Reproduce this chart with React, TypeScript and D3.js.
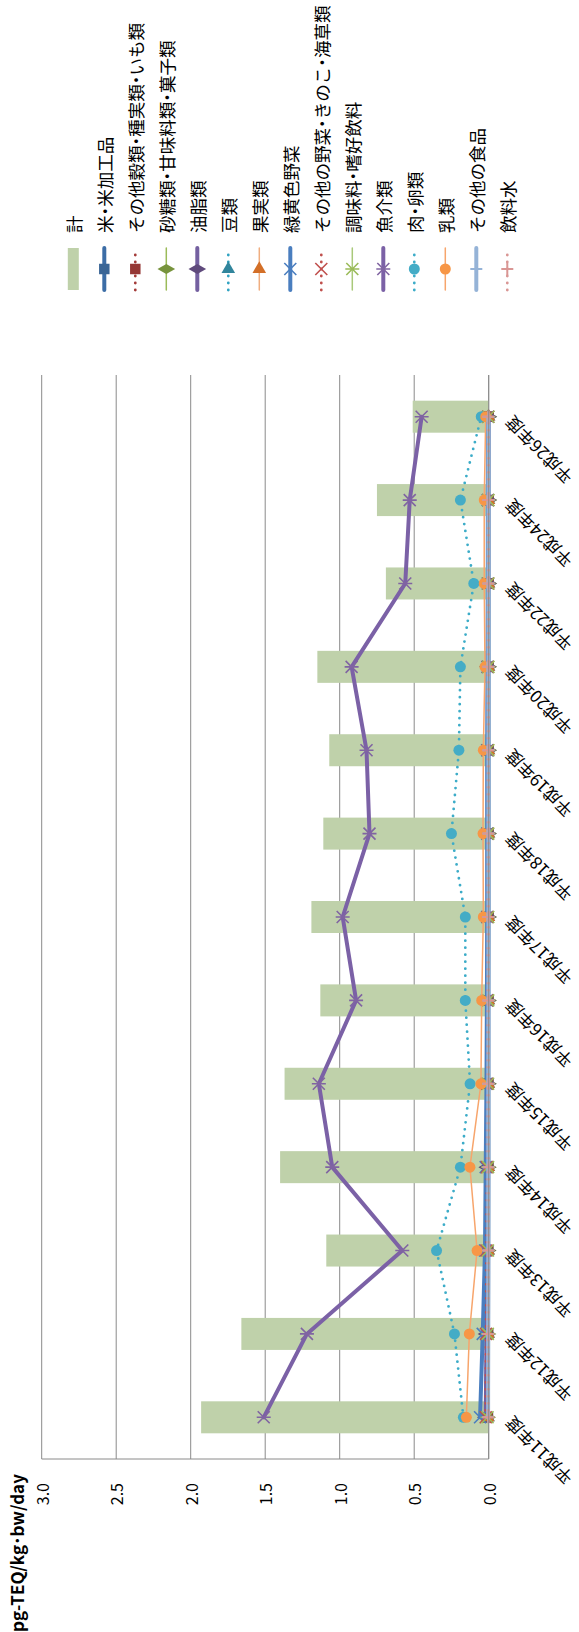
import * as d3 from "d3";

// categories (fiscal years)
const categories = [
  "平成11年度", "平成12年度", "平成13年度", "平成14年度", "平成15年度",
  "平成16年度", "平成17年度", "平成18年度", "平成19年度", "平成20年度",
  "平成22年度", "平成24年度", "平成26年度",
];

const valueTicks = [0, 0.5, 1.0, 1.5, 2.0, 2.5, 3.0];

// 計 (bars)
const total = [1.93, 1.66, 1.09, 1.40, 1.37, 1.13, 1.19, 1.11, 1.07, 1.15, 0.69, 0.75, 0.51];

// line series
const rice = [0.005, 0.004, 0.003, 0.002, 0.002, 0.002, 0.001, 0.001, 0.001, 0.001, 0.001, 0.001, 0.001];
const otherGrains = [0.006, 0.005, 0.004, 0.003, 0.003, 0.002, 0.002, 0.002, 0.002, 0.002, 0.001, 0.001, 0.001];
const sugar = [0.010, 0.008, 0.006, 0.005, 0.004, 0.004, 0.003, 0.003, 0.003, 0.003, 0.002, 0.002, 0.002];
const oils = [0.020, 0.015, 0.010, 0.010, 0.008, 0.007, 0.006, 0.006, 0.005, 0.005, 0.004, 0.004, 0.003];
const beans = [0.004, 0.003, 0.003, 0.002, 0.002, 0.002, 0.002, 0.001, 0.001, 0.001, 0.001, 0.001, 0.001];
const fruits = [0.006, 0.005, 0.004, 0.003, 0.003, 0.003, 0.002, 0.002, 0.002, 0.002, 0.002, 0.002, 0.001];
const greenVeg = [0.058, 0.040, 0.025, 0.020, 0.015, 0.012, 0.010, 0.010, 0.010, 0.008, 0.006, 0.006, 0.005];
const otherVeg = [0.020, 0.018, 0.015, 0.012, 0.010, 0.008, 0.007, 0.006, 0.006, 0.005, 0.004, 0.004, 0.003];
const seasonings = [0.008, 0.006, 0.005, 0.004, 0.004, 0.003, 0.003, 0.003, 0.002, 0.002, 0.002, 0.002, 0.002];
const fish = [1.51, 1.22, 0.58, 1.05, 1.14, 0.89, 0.98, 0.80, 0.82, 0.92, 0.56, 0.53, 0.45];
const meatEggs = [0.17, 0.23, 0.35, 0.19, 0.125, 0.157, 0.157, 0.25, 0.20, 0.19, 0.10, 0.19, 0.05];
const milk = [0.15, 0.13, 0.078, 0.126, 0.052, 0.047, 0.036, 0.038, 0.036, 0.025, 0.03, 0.03, 0.02];
const otherFoods = [0.004, 0.004, 0.003, 0.003, 0.003, 0.002, 0.002, 0.002, 0.002, 0.002, 0.002, 0.002, 0.002];
const water = [0.002, 0.002, 0.001, 0.001, 0.001, 0.001, 0.001, 0.001, 0.001, 0.001, 0.001, 0.001, 0.001];

type Marker = "square" | "diamond" | "triangle" | "x" | "star" | "circle" | "plus";
type Series = {
  name: string;
  values: number[];
  color: string;
  markerColor: string;
  width: number;
  dotted?: boolean;
  marker: Marker;
};

const series: Series[] = [
  { name: "米・米加工品", values: rice, color: "#3c6da6", markerColor: "#3a6596", width: 4, marker: "square" },
  { name: "その他穀類・種実類・いも類", values: otherGrains, color: "#a33b39", markerColor: "#953735", width: 3, dotted: true, marker: "square" },
  { name: "砂糖類・甘味料類・菓子類", values: sugar, color: "#9bbb59", markerColor: "#77933c", width: 1.5, marker: "diamond" },
  { name: "油脂類", values: oils, color: "#7460a0", markerColor: "#5f4a7c", width: 4, marker: "diamond" },
  { name: "豆類", values: beans, color: "#31a3c2", markerColor: "#31859c", width: 3, dotted: true, marker: "triangle" },
  { name: "果実類", values: fruits, color: "#f0ae80", markerColor: "#d36f28", width: 1.5, marker: "triangle" },
  { name: "緑黄色野菜", values: greenVeg, color: "#4a7ebf", markerColor: "#4a7ebf", width: 4, marker: "x" },
  { name: "その他の野菜・きのこ・海草類", values: otherVeg, color: "#c0504d", markerColor: "#c0504d", width: 3, dotted: true, marker: "x" },
  { name: "調味料・嗜好飲料", values: seasonings, color: "#a9c97a", markerColor: "#9bbb59", width: 1.5, marker: "star" },
  { name: "魚介類", values: fish, color: "#7b61a6", markerColor: "#8064a2", width: 4, marker: "star" },
  { name: "肉・卵類", values: meatEggs, color: "#3cacc8", markerColor: "#44acc6", width: 3, dotted: true, marker: "circle" },
  { name: "乳類", values: milk, color: "#f7a56c", markerColor: "#f79646", width: 1.5, marker: "circle" },
  { name: "その他の食品", values: otherFoods, color: "#95b3d7", markerColor: "#95b3d7", width: 4, marker: "plus" },
  { name: "飲料水", values: water, color: "#d99694", markerColor: "#d99694", width: 3, dotted: true, marker: "plus" },
];

const BAR_COLOR = "#bfd1aa";
const GRID = "#8a8a8a";
const FONT = "'Noto Sans CJK JP', 'Noto Sans', sans-serif";
const LEGEND_FONT = 17.5;

function MarkerShape({ kind, x, y, color }: { kind: Marker; x: number; y: number; color: string }) {
  const t = `translate(${x},${y})`;
  if (kind === "circle") return <circle cx={x} cy={y} r={5.5} fill={color} />;
  if (kind === "square") return <path transform={t} d={d3.symbol(d3.symbolSquare, 110)()!} fill={color} />;
  if (kind === "diamond") return <path transform={t} d={d3.symbol(d3.symbolDiamond, 90)()!} fill={color} />;
  if (kind === "triangle") return <path transform={`${t} rotate(90)`} d={d3.symbol(d3.symbolTriangle, 80)()!} fill={color} />;
  const s = 6;
  if (kind === "x")
    return <path transform={t} d={`M${-s},${-s}L${s},${s}M${-s},${s}L${s},${-s}`} stroke={color} strokeWidth={1.6} fill="none" />;
  if (kind === "star")
    return <path transform={t} d={`M${-s},${-s}L${s},${s}M${-s},${s}L${s},${-s}M0,${-s - 1}L0,${s + 1}`} stroke={color} strokeWidth={1.6} fill="none" />;
  return <path transform={t} d={`M${-s},0L${s},0M0,${-s}L0,${s}`} stroke={color} strokeWidth={2} fill="none" />;
}

// the middle dots are narrow in the original font: use proportional widths for them
function NarrowDots({ text }: { text: string }) {
  const parts = text.split(/(・)/).filter(p => p !== "");
  return (
    <>
      {parts.map((p, i) =>
        p === "・" ? (
          <tspan key={i} style={{ fontFeatureSettings: '"palt" 1' }}>・</tspan>
        ) : (
          <tspan key={i}>{p}</tspan>
        )
      )}
    </>
  );
}

export default function App() {
  const W = 1632;
  const plot = { left: 173, right: 1257, top: 41.7, bottom: 488.7 };

  const x = d3.scaleBand<string>().domain(categories).range([plot.left, plot.right]);
  const y = d3.scaleLinear().domain([0, 3]).range([plot.bottom, plot.top]);
  const cx = (i: number) => x(categories[i])! + x.bandwidth() / 2;
  const barW = 32;

  const line = d3.line<number>().x((_, i) => cx(i)).y(v => y(v));

  const legendItems = ["計", ...series.map(s => s.name)];
  const legendY = (i: number) => 73.3 + 31 * i;
  const legendX0 = 1342;
  const legendX1 = 1384;
  const legendMid = (legendX0 + legendX1) / 2;

  return (
    <svg width={579} height={1632} style={{ position: "absolute", left: 0, top: 0, background: "#fff" }} fontFamily={FONT}>
      <g transform={`translate(0,${W}) rotate(-90)`}>
        {/* gridlines */}
        {valueTicks.map(v => (
          <line key={v} x1={plot.left} x2={plot.right} y1={y(v)} y2={y(v)} stroke={GRID} strokeWidth={1} />
        ))}
        <line x1={plot.left} x2={plot.left} y1={plot.top} y2={plot.bottom} stroke={GRID} strokeWidth={1} />

        {/* value tick labels */}
        {valueTicks.map(v => (
          <text key={v} x={149} y={y(v)} textAnchor="end" dominantBaseline="central" fontSize={16} fill="#000">
            {d3.format(".1f")(v)}
          </text>
        ))}

        {/* axis title */}
        <text x={0} y={24} fontSize={17} fontWeight="bold" fill="#000">pg-TEQ/kg･bw/day</text>

        {/* bars */}
        {total.map((v, i) => (
          <rect key={i} x={cx(i) - barW / 2} width={barW} y={y(v)} height={y(0) - y(v)} fill={BAR_COLOR} />
        ))}

        {/* category labels */}
        {categories.map((c, i) => (
          <text key={c} transform={`translate(${cx(i) - 3},${plot.bottom + 19}) rotate(-45)`} textAnchor="end"
            dominantBaseline="central" fontSize={17} fill="#000">{c}</text>
        ))}

        {/* line series */}
        {series.map(s => (
          <g key={s.name}>
            <path d={line(s.values)!} fill="none" stroke={s.color} strokeWidth={s.dotted ? 2.8 : s.width}
              strokeLinejoin="round" strokeLinecap="round" strokeDasharray={s.dotted ? "0 7" : undefined} />
            {s.values.map((v, i) => (
              <MarkerShape key={i} kind={s.marker} x={cx(i)} y={y(v)} color={s.markerColor} />
            ))}
          </g>
        ))}

        {/* category axis line */}
        <line x1={plot.left} x2={plot.right} y1={plot.bottom} y2={plot.bottom} stroke={GRID} strokeWidth={1} />

        {/* legend */}
        {legendItems.map((name, i) => {
          const ly = legendY(i);
          const s = i === 0 ? null : series[i - 1];
          return (
            <g key={name}>
              {s === null ? (
                <rect x={legendX0} width={legendX1 - legendX0} y={ly - 5.5} height={11} fill={BAR_COLOR} />
              ) : (
                <>
                  <line x1={legendX0} x2={legendX1} y1={ly} y2={ly} stroke={s.color}
                    strokeWidth={s.dotted ? 2.8 : s.width} strokeLinecap="round"
                    strokeDasharray={s.dotted ? "0 7" : undefined} />
                  <MarkerShape kind={s.marker} x={legendMid} y={ly} color={s.markerColor} />
                </>
              )}
              <text x={1399} y={ly} dominantBaseline="central" fontSize={LEGEND_FONT} fill="#000">
                <NarrowDots text={name} />
              </text>
            </g>
          );
        })}
      </g>
    </svg>
  );
}
